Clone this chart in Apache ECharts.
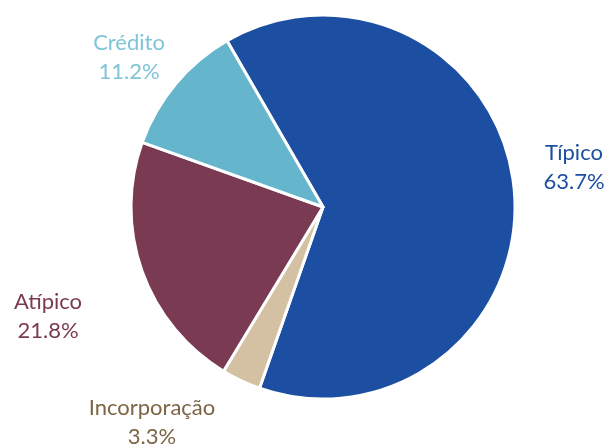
<!DOCTYPE html>
<html>
<head>
<meta charset="utf-8">
<script src="https://cdn.jsdelivr.net/npm/echarts@6/dist/echarts.min.js"></script>
<style>
  html, body { margin: 0; padding: 0; background: #fff; }
  #chart { width: 606px; height: 446px; }
</style>
</head>
<body>
<div id="chart"></div>
<script>
// dados do gráfico
var categorias = ['Típico', 'Incorporação', 'Atípico', 'Crédito'];
var valores = [63.7, 3.3, 21.8, 11.2];
var coresFatia = ['#1c4fa1', '#d4c0a3', '#7a3a52', '#65b5cd'];
var coresTexto = ['#1c4fa1', '#7d6446', '#7a3a52', '#7fc4d7'];
// posição dos rótulos (x, y do centro do texto)
var posRotulo = [[574, 167], [152, 422], [48, 316], [129, 57]];

var chart = echarts.init(document.getElementById('chart'));

var dados = categorias.map(function (nome, i) {
    return {
        name: nome,
        value: valores[i],
        itemStyle: { color: coresFatia[i] },
        label: { color: coresTexto[i] }
    };
});

chart.setOption({
    animation: false,
    series: [{
        type: 'pie',
        center: [323, 207],
        radius: [0, 192],
        startAngle: 120,
        clockwise: true,
        data: dados,
        itemStyle: { borderColor: '#fff', borderWidth: 3 },
        label: {
            show: true,
            position: 'outside',
            fontFamily: 'Lato',
            fontSize: 22,
            lineHeight: 29,
            align: 'center',
            overflow: 'none',
            formatter: function (p) {
                return p.name + '\n' + p.value.toFixed(1) + '%';
            }
        },
        labelLine: { show: false },
        labelLayout: function (params) {
            var p = posRotulo[params.dataIndex];
            return { x: p[0], y: p[1], align: 'center', verticalAlign: 'middle' };
        }
    }]
});
</script>
</body>
</html>
